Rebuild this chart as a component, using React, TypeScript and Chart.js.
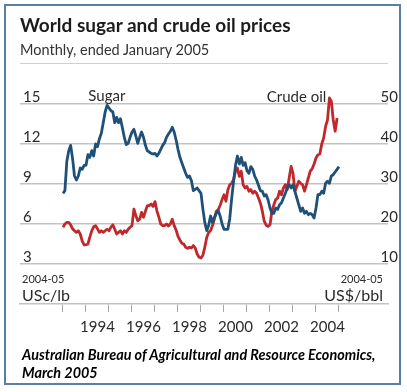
import { useEffect, useRef } from "react";
import { Chart, registerables } from "chart.js";

Chart.register(...registerables);

// Monthly data, January 1993 to January 2005
const START_YEAR = 1993;
const YEAR_TICKS = [1993, 1994, 1995, 1996, 1997, 1998, 1999, 2000, 2001, 2002, 2003, 2004, 2005];
const YEAR_LABELS = [1994, 1996, 1998, 2000, 2002, 2004];
const SUGAR_TICKS = [3, 6, 9, 12, 15];
const OIL_TICKS = [10, 20, 30, 40, 50];

// Sugar, USc/lb (2004-05 prices)
const SUGAR = [
  8.3, 8.5, 10.7, 11.5, 11.9, 10.9, 9.6, 9.3, 9.6, 10.2, 10.1, 10.4,
  10.4, 11.2, 11.0, 11.5, 11.1, 12.0, 11.8, 12.4, 12.8, 13.6, 14.4, 14.9,
  14.7, 14.5, 14.4, 13.6, 14.0, 13.6, 13.9, 13.2, 12.5, 11.95, 12.05, 12.5,
  12.9, 13.1, 12.6, 12.05, 12.5, 12.9, 12.5, 11.9, 11.5, 11.4, 11.3, 11.25,
  11.3, 11.1, 11.3, 11.6, 11.9, 12.1, 12.5, 12.75, 12.95, 13.25, 12.9, 12.3,
  11.6, 11.0, 10.6, 10.2, 9.8, 9.5, 9.6, 9.25, 8.5, 8.6, 8.7, 8.5,
  8.3, 7.1, 6.1, 5.5, 5.9, 6.6, 6.1, 6.5, 6.8, 7.0, 6.6, 6.0,
  5.6, 5.6, 5.6, 6.4, 7.9, 9.2, 10.4, 11.1, 10.5, 11.0, 10.4, 10.6,
  10.0, 9.8, 10.3, 10.1, 9.6, 9.3, 8.9, 8.5, 8.45, 8.1, 8.2, 7.8,
  7.2, 6.8, 6.8, 7.2, 7.1, 7.45, 7.6, 7.95, 8.3, 8.7, 8.95, 8.7,
  8.95, 8.45, 7.95, 7.45, 6.95, 7.2, 6.8, 6.95, 6.7, 6.8, 6.7, 6.45,
  7.2, 8.2, 8.2, 8.45, 8.3, 9.05, 9.2, 9.05, 9.6, 9.7, 9.9, 10.1,
  10.3,
];

// Crude oil, US$/bbl (2004-05 prices)
const OIL = [
  19.2, 20.0, 20.4, 20.4, 19.8, 18.8, 18.3, 17.9, 18.3, 17.5, 15.8, 14.8,
  14.8, 15.0, 16.7, 18.3, 19.3, 19.6, 18.8, 17.9, 18.3, 17.9, 18.3, 18.7,
  18.3, 19.2, 19.8, 18.7, 17.5, 17.9, 18.3, 17.5, 18.3, 17.9, 18.7, 19.2,
  19.6, 23.7, 22.1, 20.8, 21.2, 22.9, 21.7, 23.2, 24.6, 24.6, 25.0, 24.4,
  25.6, 23.3, 21.7, 20.0, 19.6, 19.6, 20.0, 19.5, 20.0, 21.2, 19.6, 18.5,
  16.9, 16.0, 15.2, 15.0, 14.2, 13.9, 14.2, 14.0, 14.6, 14.0, 12.5, 11.7,
  11.5, 12.2, 14.2, 16.7, 17.9, 18.3, 19.6, 21.3, 23.2, 23.6, 24.7, 26.1,
  27.3, 25.7, 28.5, 29.8, 30.2, 31.1, 33.2, 34.0, 31.9, 33.2, 29.8, 29.0,
  29.4, 28.2, 28.6, 27.7, 28.2, 27.7, 26.5, 25.2, 23.2, 20.7, 19.7, 19.4,
  19.8, 23.2, 24.8, 26.1, 26.5, 28.2, 27.3, 29.0, 29.8, 28.6, 31.5, 34.4,
  32.7, 28.2, 29.4, 30.7, 30.2, 29.8, 28.2, 29.8, 31.5, 33.2, 33.8, 35.0,
  36.5, 37.3, 37.5, 40.0, 41.5, 44.4, 46.0, 51.5, 50.7, 46.0, 43.2, 46.5,
];

const SUGAR_COLOR = "#1f5077";
const OIL_COLOR = "#c0282b";
const GRID = "#c3c3c3";
const TEXT = "#2b2b2b";
const FONT = "Lato";

const annotations = {
  id: "annotations",
  afterDraw(chart: any) {
    const { ctx, chartArea } = chart;
    const x = chart.scales.x;
    const yL = chart.scales.yL;
    ctx.save();
    ctx.fillStyle = TEXT;
    ctx.textBaseline = "alphabetic";
    ctx.font = `15px ${FONT}`;
    ctx.textAlign = "left";
    ctx.fillText("Sugar", x.getPixelForValue(1994.1), yL.getPixelForValue(15) - 3);
    ctx.textAlign = "right";
    ctx.fillText("Crude oil", x.getPixelForValue(2004.45), yL.getPixelForValue(15) - 2);
    // units
    ctx.font = `11px ${FONT}`;
    ctx.textAlign = "left";
    ctx.fillText("2004-05", chartArea.left + 2, 283);
    ctx.textAlign = "right";
    ctx.fillText("2004-05", chartArea.right - 5, 283);
    ctx.font = `16px ${FONT}`;
    ctx.textAlign = "left";
    ctx.fillText("USc/lb", chartArea.left + 2, 301);
    ctx.textAlign = "right";
    ctx.fillText("US$/bbl", chartArea.right - 5, 301);
    ctx.restore();
  },
};

export default function App() {
  const ref = useRef<HTMLCanvasElement | null>(null);

  useEffect(() => {
    if (!ref.current) return;
    const sugarPts = SUGAR.map((v, i) => ({ x: START_YEAR + i / 12, y: v }));
    const oilPts = OIL.map((v, i) => ({ x: START_YEAR + i / 12, y: v }));
    const chart = new Chart(ref.current, {
      type: "line",
      data: {
        datasets: [
          {
            label: "Sugar",
            data: sugarPts,
            yAxisID: "yL",
            borderColor: SUGAR_COLOR,
            borderWidth: 2.8,
            pointRadius: 0,
            tension: 0,
            borderJoinStyle: "round",
          },
          {
            label: "Crude oil",
            data: oilPts,
            yAxisID: "yR",
            borderColor: OIL_COLOR,
            borderWidth: 2.8,
            pointRadius: 0,
            tension: 0,
            borderJoinStyle: "round",
          },
        ],
      },
      options: {
        animation: false,
        responsive: false,
        events: [],
        layout: { padding: { left: 20, right: 19, top: 80, bottom: 0 } },
        plugins: { legend: { display: false }, tooltip: { enabled: false }, title: { display: false } },
        scales: {
          x: {
            type: "linear",
            min: 1993 - 43 / 23,
            max: 2005 + 49 / 23,
            afterBuildTicks: (axis: any) => {
              axis.ticks = YEAR_TICKS.map((v) => ({ value: v }));
            },
            afterFit: (axis: any) => {
              axis.height = 88;
            },
            border: { display: true, color: GRID, width: 1.5 },
            grid: {
              display: true,
              drawOnChartArea: false,
              drawTicks: true,
              tickLength: 8,
              color: "#a8a8a8",
              lineWidth: 1,
            },
            ticks: {
              autoSkip: false,
              maxRotation: 0,
              minRotation: 0,
              labelOffset: 11.5,
              padding: 6,
              color: TEXT,
              font: { family: FONT, size: 15 },
              callback: (v: any) => (YEAR_LABELS.includes(Number(v)) ? String(v) : ""),
            },
          },
          yL: {
            type: "linear",
            position: "left",
            min: 0,
            max: 16.8,
            afterBuildTicks: (axis: any) => {
              axis.ticks = SUGAR_TICKS.map((v) => ({ value: v }));
            },
            afterFit: (axis: any) => {
              axis.width = 0;
            },
            border: { display: false },
            grid: { color: GRID, lineWidth: 1.5, drawTicks: false },
            ticks: {
              mirror: true,
              padding: 3,
              labelOffset: -7,
              color: TEXT,
              font: { family: FONT, size: 15 },
            },
          },
          yR: {
            type: "linear",
            position: "right",
            min: 0,
            max: 56,
            afterBuildTicks: (axis: any) => {
              axis.ticks = OIL_TICKS.map((v) => ({ value: v }));
            },
            afterFit: (axis: any) => {
              axis.width = 0;
            },
            border: { display: false },
            grid: { display: false, drawTicks: false },
            ticks: {
              mirror: true,
              padding: 10,
              labelOffset: -7,
              color: TEXT,
              font: { family: FONT, size: 15 },
            },
          },
        },
      },
      plugins: [annotations],
    } as any);
    return () => chart.destroy();
  }, []);

  return (
    <div
      style={{
        position: "absolute",
        left: 0,
        top: 0,
        width: 407,
        height: 392,
        background: "#fff",
        overflow: "hidden",
        fontFamily: FONT,
      }}
    >
      <canvas ref={ref} width={407} height={392} style={{ position: "absolute", left: 0, top: 0 }} />
      <div
        style={{
          position: "absolute",
          left: 4,
          top: 4,
          width: 393,
          height: 377,
          border: "2px solid #5b7ea7",
          pointerEvents: "none",
        }}
      />
      <div style={{ position: "absolute", left: 20, top: 13, fontSize: 19, fontWeight: 700, color: "#1c1c1c", whiteSpace: "nowrap" }}>
        World sugar and crude oil prices
      </div>
      <div style={{ position: "absolute", left: 20, top: 41, fontSize: 14.5, color: "#333", whiteSpace: "nowrap" }}>
        Monthly, ended January 2005
      </div>
      <div style={{ position: "absolute", left: 20, top: 63, width: 368, borderTop: "1.5px solid #cfcfcf" }} />
      <div
        style={{
          position: "absolute",
          left: 22,
          top: 346,
          fontSize: 14.4,
          lineHeight: "18px",
          fontWeight: 700,
          fontStyle: "italic",
          color: "#000",
          whiteSpace: "nowrap",
        }}
      >
        Australian Bureau of Agricultural and Resource Economics,
        <br />
        March 2005
      </div>
    </div>
  );
}
